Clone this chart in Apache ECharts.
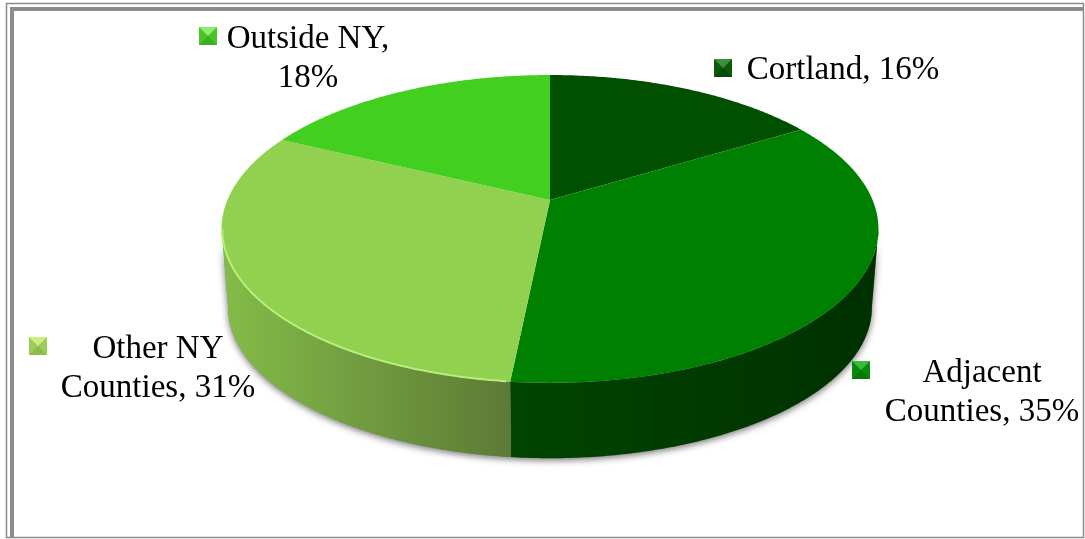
<!DOCTYPE html>
<html>
<head>
<meta charset="utf-8">
<style>
  html, body { margin: 0; padding: 0; background: #fff; }
  #chart { width: 1085px; height: 539px; }
</style>
</head>
<body>
<div id="chart"></div>
<script src="https://cdn.jsdelivr.net/npm/echarts@6/dist/echarts.min.js"></script>
<script>
// values, the labels print them rounded
var names = ['Cortland', 'Adjacent Counties', 'Other NY Counties', 'Outside NY'];
var shares = [16.3, 35.3, 30.6, 17.8];

var topColors = ['#005000', '#008000', '#92d050', '#43cf20'];
var wallColors = [
  ['#003300', '#003300'],
  ['#004500', '#003000'],
  ['#84bc48', '#5c7a36'],
  ['#2f9a18', '#2f9a18']
];
// bevelled legend keys: top, sides, bottom
var keyColors = [
  ['#3f8f3f', '#0a5a0a', '#064c06'],
  ['#3cb83c', '#0a8a0a', '#067a06'],
  ['#cdee80', '#9ccc5c', '#8cbc4c'],
  ['#8cec68', '#48c428', '#3cb020']
];

// label lines and where they go
var labelLines = [
  ['Cortland, '],
  ['Adjacent', 'Counties, '],
  ['Other NY', 'Counties, '],
  ['Outside NY,', '']
];
var labelAt = [[843, 70], [982, 393], [158, 368.5], [308, 59]];
var keyAt = [[714, 59], [852, 361], [29, 337], [199, 27]];

// pie in perspective: unit disc -> screen
var cx = 550, cy = 200, A = 322.6, B = 148.5, k = 0.188;
var wallDrop = 79, wallScale = 0.98;

function project(theta, drop, s) {
  var X = Math.sin(theta), Y = -Math.cos(theta);
  var w = 1 - k * Y;
  return [cx + s * A * X / w, cy + drop + s * B * Y / w];
}

function arc(from, to, drop, s) {
  var pts = [], n = Math.max(2, Math.ceil(Math.abs(to - from) / 0.01));
  for (var i = 0; i <= n; i++) {
    pts.push(project(from + (to - from) * i / n, drop, s));
  }
  return pts;
}

function sliceRange(i) {
  var total = shares.reduce(function (a, b) { return a + b; }, 0);
  var before = 0;
  for (var j = 0; j < i; j++) before += shares[j];
  return [before / total * Math.PI * 2, (before + shares[i]) / total * Math.PI * 2];
}

// the side wall shows between the two widest points of the top
var frontFrom = Math.PI * 0.5 + 0.19, frontTo = Math.PI * 1.5 - 0.19;

function renderShadow() {
  return {
    type: 'polygon',
    shape: { points: arc(frontFrom, frontTo, 0, 1).concat(arc(frontTo, frontFrom, wallDrop, wallScale)) },
    style: { fill: '#888', shadowBlur: 7, shadowColor: 'rgba(0,0,0,0.55)', shadowOffsetY: 2 }
  };
}

function renderWall(params) {
  var r = sliceRange(params.dataIndex);
  var from = Math.max(r[0], frontFrom), to = Math.min(r[1], frontTo);
  if (to <= from) return null;
  var pts = arc(from, to, 0, 1).concat(arc(to, from, wallDrop, wallScale));
  var c = wallColors[params.dataIndex];
  return {
    type: 'polygon',
    shape: { points: pts },
    style: {
      fill: new echarts.graphic.LinearGradient(0, 0, 1, 0, [
        { offset: 0, color: c[0] }, { offset: 1, color: c[1] }
      ])
    }
  };
}

function renderTop(params) {
  var i = params.dataIndex;
  var r = sliceRange(i);
  var pts = [[cx, cy]].concat(arc(r[0], r[1], 0, 1));
  var kids = [{
    type: 'polygon',
    shape: { points: pts },
    style: { fill: topColors[i] }
  }];
  // light rim on the front edge of the pale slice
  if (i === 2) {
    kids.push({
      type: 'polyline',
      shape: { points: arc(r[0] + 0.01, Math.PI * 1.44, 0, 0.998) },
      style: { fill: null, stroke: '#b6f07a', lineWidth: 2 }
    });
  }
  return { type: 'group', children: kids };
}

function renderLabel(params) {
  var i = params.dataIndex;
  var lines = labelLines[i].slice();
  lines[lines.length - 1] += Math.round(shares[i]) + '%';
  var kx = keyAt[i][0], ky = keyAt[i][1], size = 18;
  var c = keyColors[i], m = size / 2, e = kx + size, f = ky + size;
  return {
    type: 'group',
    children: [
      { type: 'rect', shape: { x: kx, y: ky, width: size, height: size }, style: { fill: c[1] } },
      { type: 'polygon', shape: { points: [[kx, ky], [e, ky], [kx + m, ky + m]] }, style: { fill: c[0] } },
      { type: 'polygon', shape: { points: [[kx, f], [e, f], [kx + m, ky + m]] }, style: { fill: c[2] } },
      { type: 'text', x: labelAt[i][0], y: labelAt[i][1],
        style: {
          text: lines.join('\n'),
          font: '33px "Liberation Serif"',
          lineHeight: 39,
          fill: '#000',
          align: 'center',
          verticalAlign: 'middle'
        } }
    ]
  };
}

var seriesData = shares.map(function (v, i) { return { name: names[i], value: v }; });

var chart = echarts.init(document.getElementById('chart'));
chart.setOption({
  animation: false,
  backgroundColor: '#fff',
  graphic: [
    // picture frame, heavier on the top and left
    { type: 'rect', shape: { x: 6.5, y: 3.5, width: 1077, height: 534 },
      style: { fill: null, stroke: '#8c8c8c', lineWidth: 1.5 } },
    { type: 'rect', shape: { x: 10, y: 7, width: 1074, height: 4 }, style: { fill: '#8c8c8c' } },
    { type: 'rect', shape: { x: 10, y: 7, width: 4, height: 530 }, style: { fill: '#8c8c8c' } }
  ],
  series: [
    { type: 'custom', coordinateSystem: 'none', z: 1, data: [1], renderItem: renderShadow },
    { type: 'custom', coordinateSystem: 'none', z: 2, data: seriesData, renderItem: renderWall },
    { type: 'custom', coordinateSystem: 'none', z: 3, data: seriesData, renderItem: renderTop },
    { type: 'custom', coordinateSystem: 'none', z: 4, data: seriesData, renderItem: renderLabel }
  ]
});
</script>
</body>
</html>
